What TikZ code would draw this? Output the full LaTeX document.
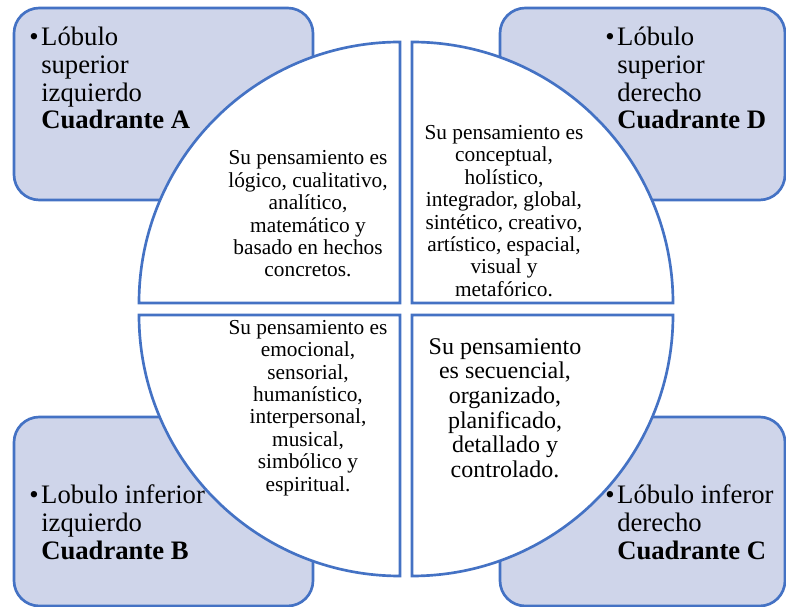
\documentclass[tikz,border=0pt]{standalone}
\usepackage{fontspec}
\setmainfont{Liberation Serif}
\definecolor{bdr}{HTML}{4472C4}
\definecolor{boxfill}{HTML}{CFD5EA}
\begin{document}
\begin{tikzpicture}[x=0.75pt,y=0.75pt,
  quad/.style={draw=bdr,fill=boxfill,line width=2pt,rounded corners=19pt},
  sector/.style={draw=bdr,fill=white,line width=2pt,line join=miter},
  lbl/.style={anchor=north west,inner sep=0pt,align=left,font=\fontsize{20}{20.8}\selectfont},
  desc/.style={align=center,inner sep=0pt,font=\fontsize{16}{16.8}\selectfont}]
\useasboundingbox (0,0) rectangle (786,607);
% corner boxes
\draw[quad] (14,407) rectangle (313,599);
\draw[quad] (500,407) rectangle (785,599);
\draw[quad] (14,1) rectangle (313,190);
\draw[quad] (500,1) rectangle (785,190);
% circle sectors
\draw[sector] (400,304) -- (139,304) arc[start angle=180,end angle=90,radius=195.75pt] -- cycle;
\draw[sector] (412,304) -- (412,565) arc[start angle=90,end angle=0,radius=195.75pt] -- cycle;
\draw[sector] (400,292) -- (139,292) arc[start angle=180,end angle=270,radius=195.75pt] -- cycle;
\draw[sector] (412,292) -- (673,292) arc[start angle=0,end angle=-90,radius=195.75pt] -- cycle;
% box labels
\node[lbl] (tA) at (41,580.2) {\llap{\textbullet\hspace{2pt}}Lóbulo\\superior\\izquierdo\\\textbf{Cuadrante A}};
\node[lbl] (tD) at (617,580.2) {\llap{\textbullet\hspace{2pt}}Lóbulo\\superior\\derecho\\\textbf{Cuadrante D}};
\node[lbl] (tB) at (41,122.2) {\llap{\textbullet\hspace{2pt}}Lobulo inferior\\izquierdo\\\textbf{Cuadrante B}};
\node[lbl] (tC) at (617,122.2) {\llap{\textbullet\hspace{2pt}}Lóbulo inferor\\derecho\\\textbf{Cuadrante C}};
% sector texts
\node[desc] (dA) at (308,393) {Su pensamiento es\\lógico, cualitativo,\\analítico,\\matemático y\\basado en hechos\\concretos.};
\node[desc] (dD) at (504,396) {Su pensamiento es\\conceptual,\\holístico,\\integrador, global,\\sintético, creativo,\\artístico, espacial,\\visual y\\metafórico.};
\node[desc] (dB) at (308,199) {Su pensamiento es\\emocional,\\sensorial,\\humanístico,\\interpersonal,\\musical,\\simbólico y\\espiritual.};
\node[desc,font=\fontsize{18}{18.5}\selectfont] (dC) at (505,199) {Su pensamiento\\es secuencial,\\organizado,\\planificado,\\detallado y\\controlado.};
\end{tikzpicture}
\end{document}
